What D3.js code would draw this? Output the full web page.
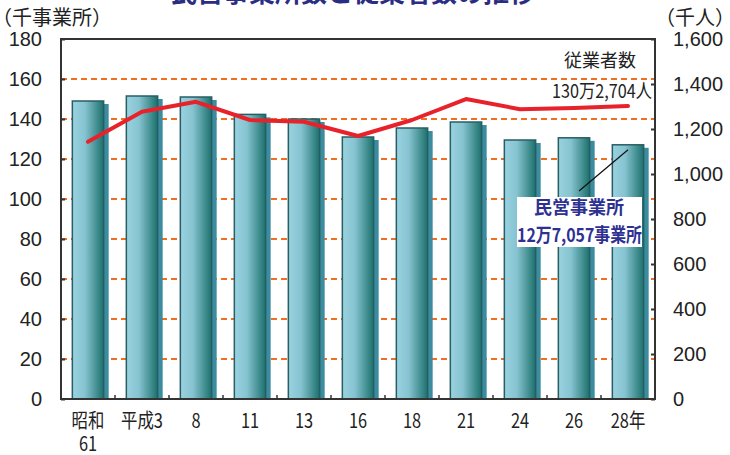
<!DOCTYPE html>
<html>
<head>
<meta charset="utf-8">
<script src="https://cdn.jsdelivr.net/npm/d3@7"></script>
<style>
  body { margin: 0; background: #fff; }
  svg { display: block; }
</style>
</head>
<body>
<div id="chart"></div>
<script>
// data: establishments (thousand) and employees (thousand people)
const years = ['昭和61', '平成3', '8', '11', '13', '16', '18', '21', '24', '26', '28年'];
const establishments = [149, 151.5, 151, 142.3, 140, 131, 135.5, 138.5, 129.5, 130.6, 127.1];
const employees = [1143, 1277, 1321, 1240, 1232, 1169, 1240, 1333, 1288, 1293, 1302.7];
const leftTicks = [0, 20, 40, 60, 80, 100, 120, 140, 160, 180];
const rightTicks = [0, 200, 400, 600, 800, 1000, 1200, 1400, 1600];

const W = 730, H = 455;
const margin = { top: 39, right: 75, bottom: 56, left: 61 };
const width = W - margin.left - margin.right,
  height = H - margin.top - margin.bottom;

const svg = d3.select('#chart').append('svg')
  .attr('width', W)
  .attr('height', H);

const numFont = '"Liberation Sans", Arial, sans-serif';
const jpFont = '"Noto Sans CJK JP", "Noto Sans", sans-serif';

// gradient for bar faces
const defs = svg.append('defs');
const grad = defs.append('linearGradient').attr('id', 'barGrad')
  .attr('x1', '0%').attr('x2', '100%').attr('y1', '0%').attr('y2', '0%');
grad.append('stop').attr('offset', '0%').attr('stop-color', '#9ad2e0');
grad.append('stop').attr('offset', '40%').attr('stop-color', '#86c3d0');
grad.append('stop').attr('offset', '100%').attr('stop-color', '#1b716d');

const g = svg.append('g').attr('transform', `translate(${margin.left},${margin.top})`);

const x = d3.scaleBand().domain(years).range([0, width]).padding(0);
const y = d3.scaleLinear().domain([0, 180]).range([height, 0]);
const y2 = d3.scaleLinear().domain([0, 1600]).range([height, 0]);
const barW = x.bandwidth() * 0.58;

// title (cut off at top)
svg.append('text')
  .attr('x', 353).attr('y', 2)
  .attr('text-anchor', 'middle')
  .attr('font-family', jpFont)
  .attr('font-weight', 'bold')
  .attr('font-size', 26)
  .attr('fill', '#2b2d83')
  .text('民営事業所数と従業者数の推移');

// gridlines
g.append('g').selectAll('line')
  .data(leftTicks.filter(d => d > 0 && d < 180))
  .join('line')
  .attr('x1', 0).attr('x2', width)
  .attr('y1', d => y(d)).attr('y2', d => y(d))
  .attr('stroke', '#f26f21')
  .attr('stroke-width', 2)
  .attr('stroke-dasharray', '6,4');

// bars: shadow then face
const bars = g.append('g').selectAll('g').data(years).join('g');
bars.append('rect')
  .attr('x', (d, i) => x(d) + (x.bandwidth() - barW) / 2 + 5)
  .attr('y', (d, i) => y(establishments[i]) + 3)
  .attr('width', barW)
  .attr('height', (d, i) => height - y(establishments[i]) - 3)
  .attr('fill', '#3a8c9e');
bars.append('rect')
  .attr('x', (d, i) => x(d) + (x.bandwidth() - barW) / 2)
  .attr('y', (d, i) => y(establishments[i]))
  .attr('width', barW)
  .attr('height', (d, i) => height - y(establishments[i]))
  .attr('fill', 'url(#barGrad)')
  .attr('stroke', '#2a5d63')
  .attr('stroke-width', 1.5);

// employees line
const line = d3.line()
  .x((d, i) => x(years[i]) + x.bandwidth() / 2)
  .y(d => y2(d));
g.append('path')
  .datum(employees)
  .attr('fill', 'none')
  .attr('stroke', '#e8222b')
  .attr('stroke-width', 4)
  .attr('stroke-linejoin', 'round')
  .attr('stroke-linecap', 'round')
  .attr('d', line);

// frame
g.append('rect')
  .attr('x', 0).attr('y', 0)
  .attr('width', width).attr('height', height)
  .attr('fill', 'none')
  .attr('stroke', '#333')
  .attr('stroke-width', 2);

// left axis
const leftAxis = g.append('g')
  .call(d3.axisRight(y).tickValues(leftTicks).tickSize(4).tickFormat(''));
leftAxis.select('.domain').remove();
leftAxis.selectAll('line').attr('stroke', '#333').attr('stroke-width', 2);
g.append('g').selectAll('text').data(leftTicks).join('text')
  .attr('x', -19).attr('y', d => y(d))
  .attr('dy', '0.36em')
  .attr('text-anchor', 'end')
  .attr('font-family', numFont)
  .attr('font-size', 20)
  .attr('fill', '#222')
  .text(d => d);

// right axis
const rightAxis = g.append('g')
  .attr('transform', `translate(${width},0)`)
  .call(d3.axisLeft(y2).tickValues(rightTicks).tickSize(4).tickFormat(''));
rightAxis.select('.domain').remove();
rightAxis.selectAll('line').attr('stroke', '#333').attr('stroke-width', 2);
g.append('g').selectAll('text').data(rightTicks).join('text')
  .attr('x', width + 18).attr('y', d => y2(d))
  .attr('dy', '0.36em')
  .attr('text-anchor', 'start')
  .attr('font-family', numFont)
  .attr('font-size', 20)
  .attr('fill', '#222')
  .text(d => d3.format(',')(d));

// bottom ticks between categories
g.append('g').selectAll('line').data(years.slice(1)).join('line')
  .attr('x1', d => x(d)).attr('x2', d => x(d))
  .attr('y1', height).attr('y2', height - 4)
  .attr('stroke', '#333').attr('stroke-width', 1.5);

// x labels (condensed)
const xl = g.append('g').selectAll('g').data(years).join('g')
  .attr('transform', d => `translate(${x(d) + x.bandwidth() / 2},${height + 29}) scale(0.82,1)`);
xl.append('text')
  .attr('text-anchor', 'middle')
  .attr('font-family', jpFont)
  .attr('font-size', 20)
  .attr('fill', '#222')
  .text(d => d === '昭和61' ? '昭和' : d);
xl.filter(d => d === '昭和61').append('text')
  .attr('y', 23)
  .attr('text-anchor', 'middle')
  .attr('font-family', jpFont)
  .attr('font-size', 20)
  .attr('fill', '#222')
  .text('61');

// axis titles
svg.append('text')
  .attr('x', -8).attr('y', 25)
  .attr('font-family', jpFont)
  .attr('font-size', 20)
  .attr('fill', '#222')
  .text('（千事業所）');
svg.append('text')
  .attr('x', 655).attr('y', 25)
  .attr('font-family', jpFont)
  .attr('font-size', 20)
  .attr('fill', '#222')
  .text('（千人）');

// employees annotation
svg.append('text')
  .attr('x', 636).attr('y', 67)
  .attr('text-anchor', 'end')
  .attr('font-family', jpFont)
  .attr('font-size', 18)
  .attr('fill', '#222')
  .text('従業者数');
svg.append('text')
  .attr('x', 552).attr('y', 98)
  .attr('textLength', 100)
  .attr('lengthAdjust', 'spacingAndGlyphs')
  .attr('font-family', jpFont)
  .attr('font-size', 19)
  .attr('fill', '#222')
  .text('130万2,704人');

// establishments annotation
const lastX = x(years[years.length - 1]) + x.bandwidth() / 2 + margin.left;
svg.append('line')
  .attr('x1', 579).attr('y1', 191)
  .attr('x2', lastX).attr('y2', y(establishments[establishments.length - 1]) + margin.top + 5)
  .attr('stroke', '#111').attr('stroke-width', 1.2);
svg.append('rect')
  .attr('x', 517).attr('y', 197)
  .attr('width', 125).attr('height', 50)
  .attr('fill', '#fff');
svg.append('text')
  .attr('x', 579).attr('y', 214)
  .attr('text-anchor', 'middle')
  .attr('font-family', jpFont)
  .attr('font-weight', 'bold')
  .attr('font-size', 18)
  .attr('fill', '#2e3192')
  .text('民営事業所');
svg.append('text')
  .attr('x', 517).attr('y', 242)
  .attr('textLength', 125)
  .attr('lengthAdjust', 'spacingAndGlyphs')
  .attr('font-family', jpFont)
  .attr('font-weight', 'bold')
  .attr('font-size', 19)
  .attr('fill', '#2e3192')
  .text('12万7,057事業所');
</script>
</body>
</html>
